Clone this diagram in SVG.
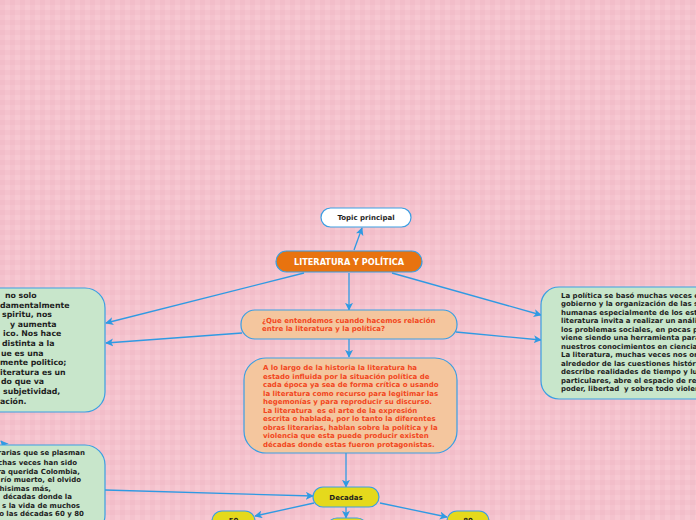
<svg xmlns="http://www.w3.org/2000/svg" width="696" height="520" viewBox="0 0 696 520">
<defs>
<pattern id="bg" width="10" height="10" patternUnits="userSpaceOnUse">
<rect width="10" height="10" fill="#f7c8d2"/>
<rect x="0" y="0" width="5" height="10" fill="#e6a2b3" opacity="0.16"/>
<rect x="0" y="0" width="10" height="5" fill="#e6a2b3" opacity="0.16"/>
</pattern>
<marker id="ah" viewBox="0 0 10 10" refX="9" refY="5" markerWidth="8" markerHeight="8" markerUnits="userSpaceOnUse" orient="auto">
<path d="M0,0 L10,5 L0,10 L2.5,5 z" fill="#2f9ae3"/>
</marker>
<style>
.ln{fill:none;stroke:#2f9ae3;stroke-width:1.3;marker-end:url(#ah)}
.nd{stroke:#3a9fe3;stroke-width:1.2}
.t{font-family:"DejaVu Sans","Verdana",sans-serif;font-weight:bold;font-size:7px}
.l1{font-size:7.8px}
.dk{fill:#1e1e1e}
.rd{fill:#f2471d}
</style>
</defs>
<rect width="696" height="520" fill="url(#bg)"/>

<g id="connectors">
<line class="ln" x1="354" y1="250" x2="362" y2="228"/>
<line class="ln" x1="304" y1="273" x2="106" y2="323"/>
<line class="ln" x1="349" y1="273" x2="349" y2="310"/>
<line class="ln" x1="392" y1="273" x2="541" y2="315"/>
<line class="ln" x1="242" y1="333" x2="106" y2="343"/>
<line class="ln" x1="349" y1="339" x2="349" y2="357"/>
<line class="ln" x1="456" y1="332" x2="541" y2="340"/>
<line class="ln" x1="346" y1="453" x2="346" y2="487"/>
<line class="ln" x1="105" y1="490" x2="313" y2="496"/>
<line class="ln" x1="314" y1="503" x2="255" y2="516"/>
<line class="ln" x1="346" y1="507" x2="346" y2="518"/>
<line class="ln" x1="380" y1="503" x2="447" y2="517"/>
<line class="ln" x1="8" y1="449" x2="1" y2="441"/>
</g>

<g id="topic">
<rect class="nd" x="321" y="208" width="90" height="19" rx="9.5" fill="#ffffff"/>
<text class="t dk" x="366" y="220" text-anchor="middle">Topic principal</text>
</g>

<g id="central">
<rect class="nd" x="276" y="251" width="146" height="21" rx="10.5" fill="#e8730f"/>
<text class="t" x="349" y="265" text-anchor="middle" fill="#ffffff" style="font-size:8.2px">LITERATURA Y POLÍTICA</text>
</g>

<g id="question">
<rect class="nd" x="241" y="310" width="216" height="29" rx="14" fill="#f4c69e"/>
<text class="t rd" x="262" y="322.5">¿Que entendemos cuando hacemos relación</text>
<text class="t rd" x="262" y="330.5">entre la literatura y la política?</text>
</g>

<g id="historia">
<rect class="nd" x="244" y="358" width="213" height="95" rx="22" fill="#f4c69e"/>
<text class="t rd" xml:space="preserve"><tspan x="263" y="370">A lo largo de la historia la literatura ha</tspan><tspan x="263" y="378.5">estado influida por la situación política de</tspan><tspan x="263" y="387">cada época ya sea de forma crítica o usando</tspan><tspan x="263" y="395.5">la literatura como recurso para legitimar las</tspan><tspan x="263" y="404">hegemonías y para reproducir su discurso.</tspan><tspan x="263" y="412.5">La literatura  es el arte de la expresión</tspan><tspan x="263" y="421">escrita o hablada, por lo tanto la diferentes</tspan><tspan x="263" y="429.5">obras literarias, hablan sobre la política y la</tspan><tspan x="263" y="438">violencia que esta puede producir existen</tspan><tspan x="263" y="446.5">décadas donde estas fueron protagonistas.</tspan></text>
</g>

<g id="left1">
<rect class="nd" x="-40" y="288" width="145" height="124" rx="20" fill="#c8e6cb"/>
<text class="t l1 dk" x="5" y="298">no solo</text>
<text class="t l1 dk" x="0" y="307.6">damentalmente</text>
<text class="t l1 dk" x="2" y="317.2">spiritu, nos</text>
<text class="t l1 dk" x="10" y="326.8">y aumenta</text>
<text class="t l1 dk" x="3" y="336.4">ico. Nos hace</text>
<text class="t l1 dk" x="2" y="346">distinta a la</text>
<text class="t l1 dk" x="1" y="355.6">ue es una</text>
<text class="t l1 dk" x="0" y="365.2">mente politico;</text>
<text class="t l1 dk" x="0" y="374.8">iteratura es un</text>
<text class="t l1 dk" x="1" y="384.4">do que va</text>
<text class="t l1 dk" x="3" y="394">subjetividad,</text>
<text class="t l1 dk" x="0" y="403.6">ación.</text>
</g>

<g id="left2">
<rect class="nd" x="-40" y="445" width="145" height="90" rx="20" fill="#c8e6cb"/>
<text class="t dk" text-anchor="end" x="85" y="455">rarias que se plasman</text>
<text class="t dk" text-anchor="end" x="77" y="465">chas veces han sido</text>
<text class="t dk" text-anchor="end" x="80" y="473.7">ra querida Colombia,</text>
<text class="t dk" text-anchor="end" x="81" y="482">río muerto, el olvido</text>
<text class="t dk" text-anchor="end" x="51" y="490.7">uchisimas más,</text>
<text class="t dk" text-anchor="end" x="72" y="499">décadas donde la</text>
<text class="t dk" text-anchor="end" x="80" y="507.7">s la vida de muchos</text>
<text class="t dk" text-anchor="end" x="84" y="516">o las décadas 60 y 80</text>
</g>

<g id="right1">
<rect class="nd" x="541" y="287" width="190" height="112" rx="18" fill="#c8e6cb"/>
<text class="t dk" xml:space="preserve"><tspan x="561" y="297.5">La política se basó muchas veces e</tspan><tspan x="561" y="306">gobierno y la organización de las s</tspan><tspan x="561" y="314.5">humanas especialmente de los esta</tspan><tspan x="561" y="323">literatura invita a realizar un análi</tspan><tspan x="561" y="331.5">los problemas sociales, en pocas p</tspan><tspan x="561" y="340">viene siendo una herramienta para</tspan><tspan x="561" y="348.5">nuestros conocimientos en ciencia</tspan><tspan x="561" y="357">La literatura, muchas veces nos ori</tspan><tspan x="561" y="365.5">alrededor de las cuestiones históri</tspan><tspan x="561" y="374">describe realidades de tiempo y lug</tspan><tspan x="561" y="382.5">particulares, abre el espacio de ref</tspan><tspan x="561" y="391">poder, libertad  y sobre todo violen</tspan></text>
</g>

<g id="decadas">
<rect class="nd" x="313" y="487" width="66" height="20" rx="10" fill="#e5d91c"/>
<text class="t dk" x="346" y="500" text-anchor="middle">Decadas</text>
</g>

<g id="d50">
<rect class="nd" x="212" y="511" width="43" height="22" rx="10" fill="#e5d91c"/>
<text class="t dk" x="233.5" y="523" text-anchor="middle">50</text>
</g>

<g id="d70">
<rect class="nd" x="327" y="518" width="40" height="20" rx="10" fill="#e5d91c"/>
</g>

<g id="d80">
<rect class="nd" x="447" y="511" width="42" height="22" rx="10" fill="#e5d91c"/>
<text class="t dk" x="468" y="523" text-anchor="middle">80</text>
</g>
</svg>
